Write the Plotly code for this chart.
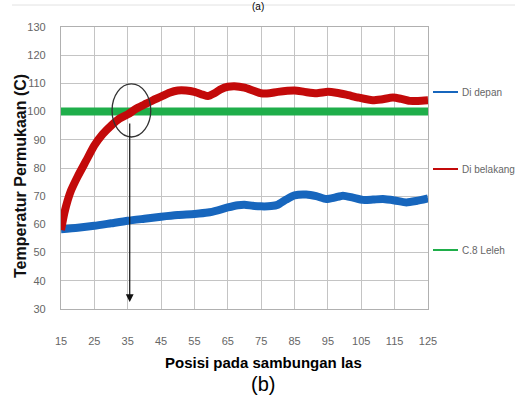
import plotly.graph_objects as go

# Surface temperature along the weld joint
front_x = [15, 20, 25, 30, 35, 40, 45, 50, 55, 59, 62, 65, 68, 70, 72.5, 75, 78, 80,
           82.5, 85, 88.5, 91.5, 94.5, 97, 99.5, 102.5, 105.5, 108.5, 111.5, 115,
           118.5, 121.5, 125]
front_temp = [58.3, 58.8, 59.5, 60.4, 61.3, 62.0, 62.7, 63.3, 63.7, 64.2, 65.0, 66.0,
              66.8, 67.0, 66.6, 66.4, 66.5, 67.0, 68.8, 70.3, 70.6, 70.0, 69.0, 69.5,
              70.2, 69.5, 68.7, 68.8, 69.0, 68.5, 67.8, 68.3, 69.2]

back_x = [15, 16, 17, 18, 20, 22.5, 25, 27.5, 30, 32.5, 35, 37.5, 40, 42.5, 45, 47.5,
          50, 52.5, 55, 57.5, 59, 61, 63, 65, 67, 70, 72.5, 75, 77.5, 80, 85, 88,
          91.5, 95, 97.5, 100.5, 104, 108.4, 111, 114.5, 117, 119.5, 122, 125]
back_temp = [58, 64, 68.5, 72, 77, 82.5, 88, 92, 95, 97.5, 99, 101, 102.5, 104, 105.3,
             106.7, 107.5, 107.5, 107, 106, 105.5, 106.5, 108, 108.8, 109, 108.5,
             107.5, 106.5, 106.5, 107, 107.5, 107, 106.5, 107, 106.7, 106, 105, 104,
             104.3, 105, 104.5, 103.8, 103.8, 104]

melt_x = [15, 125]
melt_temp = [100, 100]

x_ticks = [15, 25, 35, 45, 55, 65, 75, 85, 95, 105, 115, 125]
y_ticks = [30, 40, 50, 60, 70, 80, 90, 100, 110, 120, 130]

series_names = ["Di depan", "Di belakang", "C.8 Leleh"]
series_colors = ["#1766bd", "#c30a0a", "#1fae4a"]

fig = go.Figure()
fig.add_trace(go.Scatter(x=melt_x, y=melt_temp, mode="lines", name=series_names[2],
                         line=dict(color=series_colors[2], width=8)))
fig.add_trace(go.Scatter(x=front_x, y=front_temp, mode="lines", name=series_names[0],
                         line=dict(color=series_colors[0], width=8, shape="spline",
                                   smoothing=0.6)))
fig.add_trace(go.Scatter(x=back_x, y=back_temp, mode="lines", name=series_names[1],
                         line=dict(color=series_colors[1], width=8, shape="spline",
                                   smoothing=0.6)))

tick_font = dict(family="Liberation Sans Narrow, Arial Narrow, Liberation Sans",
                 size=11, color="#666666")
legend_font = dict(family="Liberation Sans Narrow, Arial Narrow, Liberation Sans",
                   size=10, color="#666666")

# Plot area in pixels: x 61..428, y 27..309
PL, PR, PT, PB, W, H = 61, 428, 27, 309, 515, 399


def px_x(x):
    return (x - PL) / (PR - PL)


def px_y(y):
    return (PB - y) / (PB - PT)


fig.update_layout(
    width=W, height=H,
    margin=dict(l=PL, r=W - PR, t=PT, b=H - PB),
    paper_bgcolor="white", plot_bgcolor="white",
    showlegend=False,
    xaxis=dict(range=[15, 125], tickvals=x_ticks, ticktext=[str(v) for v in x_ticks],
               showgrid=True, gridcolor="#c4c4c4", gridwidth=1.2,
               showline=True, linecolor="#b0b0b0", linewidth=1.2, mirror=True,
               ticks="outside", ticklen=22, tickcolor="rgba(0,0,0,0)",
               tickfont=tick_font, zeroline=False),
    yaxis=dict(range=[30, 130], tickvals=y_ticks, ticktext=[str(v) for v in y_ticks],
               showgrid=True, gridcolor="#c4c4c4", gridwidth=1.2,
               showline=True, linecolor="#b0b0b0", linewidth=1.2, mirror=True,
               ticks="outside", ticklen=12, tickcolor="rgba(0,0,0,0)",
               tickfont=tick_font, zeroline=False),
)

# Circle marking where the back side reaches the melting temperature
fig.add_shape(type="circle", xref="x", yref="y", x0=30.3, x1=41.9, y0=91, y1=109.8,
              line=dict(color="#333333", width=1.3))

# Arrow dropping from that point to the position axis
fig.add_annotation(x=35.6, y=32.5, ax=35.6, ay=96.3, xref="x", yref="y",
                   axref="x", ayref="y", text="", showarrow=True,
                   arrowhead=2, arrowsize=1.3, arrowwidth=1.2, arrowcolor="#111111")

# Hand-placed legend on the right
legend_y = [92, 169, 250]
for name, color, py in zip(series_names, series_colors, legend_y):
    fig.add_shape(type="line", xref="paper", yref="paper",
                  x0=px_x(433), x1=px_x(458), y0=px_y(py), y1=px_y(py),
                  line=dict(color=color, width=2))
    fig.add_annotation(x=px_x(460), y=px_y(py), xref="paper", yref="paper",
                       text=name, showarrow=False, xanchor="left", yanchor="middle",
                       font=legend_font)

# Axis titles and panel labels
fig.add_annotation(x=px_x(20), y=px_y(176), xref="paper", yref="paper",
                   xanchor="center", yanchor="middle",
                   text="<b>Temperatur Permukaan (C)</b>", textangle=-90,
                   showarrow=False, font=dict(family="Liberation Sans, Arial", size=16,
                                              color="#111111"))
fig.add_annotation(x=px_x(263), y=px_y(362), xref="paper", yref="paper",
                   xanchor="center", yanchor="middle",
                   text="<b>Posisi pada sambungan las</b>",
                   showarrow=False, font=dict(family="Liberation Sans, Arial", size=15,
                                              color="#000000"))
fig.add_annotation(x=px_x(263), y=px_y(384), xref="paper", yref="paper",
                   xanchor="center", yanchor="middle", text="(b)", showarrow=False,
                   font=dict(family="Liberation Sans, Arial", size=20, color="#000000"))
fig.add_annotation(x=px_x(258), y=px_y(0), xref="paper", yref="paper",
                   xanchor="center", yanchor="top", text="(a)", showarrow=False,
                   borderpad=0,
                   font=dict(family="Liberation Sans, Arial", size=10, color="#000000"))

# Thin frame line along the top edge
fig.add_shape(type="line", xref="paper", yref="paper", x0=px_x(12), x1=px_x(515),
              y0=px_y(5), y1=px_y(5), line=dict(color="#e2e2e2", width=1))

fig.write_html("out.html")
